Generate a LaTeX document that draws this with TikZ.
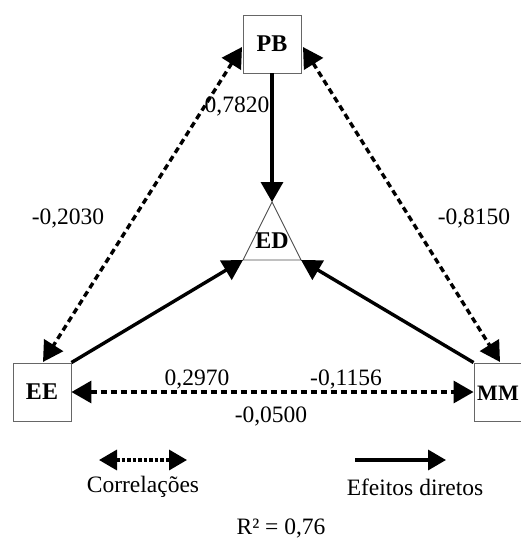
\documentclass[tikz,border=0pt]{standalone}
\usepackage{fontspec}
\setmainfont{Liberation Serif}
\usetikzlibrary{arrows.meta}
\begin{document}
\begin{tikzpicture}[
  x=1pt, y=-1pt,
  every node/.style={font=\fontsize{23.5}{27}\selectfont},
  var/.style={draw=black!60, line width=0.9pt, fill=white, minimum size=58pt, inner sep=0pt, font=\fontsize{24}{27}\selectfont\bfseries},
  tip/.style={-{Triangle[length=20pt,width=22pt]}},
  efeito/.style={tip, line width=3.4pt},
  correl/.style={{Triangle[length=20pt,width=22pt]}-{Triangle[length=20pt,width=22pt]}, line width=3.4pt, dash pattern=on 6pt off 4pt},
  ]
  \useasboundingbox (0,0) rectangle (520,540);
  \node[var] (PB) at (272,44) {PB};
  \node[var] (EE) at (42,392) {EE};
  \node[var] (MM) at (503,392) {};
  \node[font=\fontsize{22}{26}\selectfont\bfseries] (MMtxt) at (498,393) {MM};
  \coordinate (top) at (272,202);
  \coordinate (bl) at (243,260);
  \coordinate (br) at (301,260);
  \draw[black!70, line width=0.9pt] (top) -- (bl) -- (br) -- cycle;
  \node[font=\fontsize{24}{27}\selectfont\bfseries] (ED) at (272,241) {ED};
  \coordinate (PBl) at (242,47);
  \coordinate (PBr) at (303,47);
  \coordinate (EEt) at (43,362);
  \coordinate (MMt) at (500,362);
  \draw[efeito] (PB.south) -- (top);
  \draw[efeito] (EE.north east) -- (bl);
  \draw[efeito] (MM.north west) -- (br);
  \draw[correl] (PBl) -- (EEt);
  \draw[correl] (PBr) -- (MMt);
  \draw[correl] (EE.east) -- (MM.west);
  \node (r1) at (237,106) {0,7820};
  \node (r2) at (68,218) {-0,2030};
  \node (r3) at (474,218) {-0,8150};
  \node (r4) at (197,379) {0,2970};
  \node (r5) at (346,379) {-0,1156};
  \node (r6) at (271,416) {-0,0500};
  \coordinate (c1) at (99,460);
  \coordinate (c2) at (187,460);
  \draw[{Triangle[length=18pt,width=20pt]}-{Triangle[length=18pt,width=20pt]}, line width=3.4pt, dash pattern=on 3.5pt off 2pt] (c1) -- (c2);
  \node (corr) at (143,487) {Correlações};
  \coordinate (e1) at (355,460);
  \coordinate (e2) at (446,460);
  \draw[-{Triangle[length=18pt,width=20pt]}, line width=3.4pt] (e1) -- (e2);
  \node (efd) at (415,487) {Efeitos diretos};
  \node (rq) at (281,528) {R² = 0,76};
\end{tikzpicture}
\end{document}
